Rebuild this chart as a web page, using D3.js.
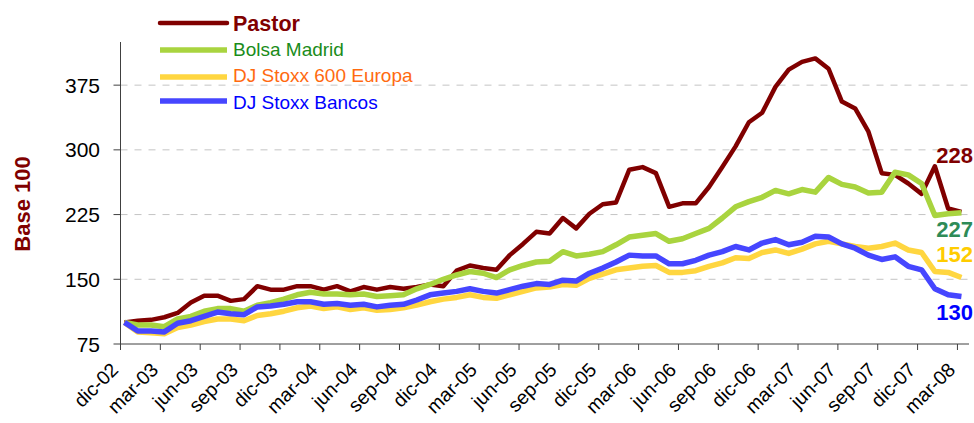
<!DOCTYPE html>
<html>
<head>
<meta charset="utf-8">
<script src="https://cdn.jsdelivr.net/npm/d3@7"></script>
<style>
  html, body { margin: 0; padding: 0; background: #fff; }
  svg { display: block; font-family: Arial, "Liberation Sans", sans-serif; }
</style>
</head>
<body>
<svg id="chart" width="974" height="423"></svg>
<script>
// ---- data ----
const tickLabels = ["dic-02","mar-03","jun-03","sep-03","dic-03","mar-04","jun-04","sep-04","dic-04","mar-05","jun-05","sep-05","dic-05","mar-06","jun-06","sep-06","dic-06","mar-07","jun-07","sep-07","dic-07","mar-08"];
const yTicks = [75, 150, 225, 300, 375];
const seriesNames = ["Pastor", "Bolsa Madrid", "DJ Stoxx 600 Europa", "DJ Stoxx Bancos"];
const pastor = [100,102,103,106,111,123,131,131,125,127,142,138,138,142,142,138,142,
  136,141,138,141,139,141,144,142,160,166,163,161,178,191,205,203,221,
  209,226,237,239,277,280,273,234,238,238,257,280,304,332,343,
  373,393,402,406,394,356,348,321,273,271,261,249,281,232,228];
const bolsaMadrid = [100,97,97,95,104,107,113,116,116,113,120,123,127,132,135,133,133,
  132,133,130,131,132,139,144,150,155,159,157,152,161,166,170,171,182,
  177,179,182,190,199,201,203,194,197,203,209,221,234,240,245,
  253,249,254,251,268,260,257,250,251,274,271,261,224,226,227];
const stoxx600 = [100,89,88,87,94,97,101,104,104,102,108,110,113,117,119,116,118,
  115,117,114,115,117,120,124,127,129,132,129,128,132,136,140,141,144,
  143,151,156,161,163,165,166,158,158,160,165,169,175,174,181,
  184,180,185,191,194,191,188,186,188,192,184,181,159,158,152];
const stoxxBancos = [100,90,90,89,99,102,107,112,110,109,118,119,121,124,124,121,122,
  120,121,118,120,121,126,132,134,136,139,136,134,138,142,145,144,149,
  148,157,163,170,178,177,177,168,168,172,178,182,188,184,192,
  196,190,193,200,199,191,186,178,173,176,165,161,139,132,130];
const allSeries = [pastor, bolsaMadrid, stoxx600, stoxxBancos];

// ---- styles ----
const lineColors = ["#800000", "#a9d43f", "#ffd640", "#4646ff"];
const lineWidths = [4.5, 5.5, 5.5, 5.5];
const legendTextColors = ["#800000", "#1a8c1a", "#ff6a10", "#0000ff"];
const endLabelColors = ["#800000", "#2e8b57", "#ffcc00", "#0000ff"];
const endLabelDy = [-49, 24, -15.5, 23.5];

const svg = d3.select("#chart");
const plot = { left: 120.5, right: 969, top: 42, bottom: 344 };
const monthsShown = 63.87;   // axis runs a little past mar-08
const dataOffset = 0.3;      // sample dates fall a bit after the month tick

const x = d3.scaleLinear().domain([0, monthsShown]).range([plot.left, plot.right]);
const y = d3.scaleLinear().domain([75, 425]).range([plot.bottom, plot.top]);

// gridlines
svg.append("g").selectAll("line").data(yTicks.filter(d => d > 75)).join("line")
  .attr("x1", plot.left).attr("x2", plot.right)
  .attr("y1", d => y(d)).attr("y2", d => y(d))
  .attr("stroke", "#c4c4c4").attr("stroke-width", 1).attr("stroke-dasharray", "7,7");

// y axis
const yAxis = svg.append("g");
yAxis.append("line").attr("x1", plot.left).attr("x2", plot.left)
  .attr("y1", plot.top).attr("y2", plot.bottom).attr("stroke", "#404040");
yAxis.selectAll("line.t").data(yTicks).join("line").attr("class", "t")
  .attr("x1", plot.left - 7).attr("x2", plot.left)
  .attr("y1", d => y(d)).attr("y2", d => y(d)).attr("stroke", "#404040");
yAxis.selectAll("text").data(yTicks).join("text")
  .attr("x", 100).attr("y", d => y(d)).attr("dy", "0.36em")
  .attr("text-anchor", "end").attr("font-size", 21).attr("fill", "#000")
  .text(d => d);

// x axis
const xAxis = svg.append("g");
xAxis.append("line").attr("x1", plot.left).attr("x2", plot.right)
  .attr("y1", plot.bottom).attr("y2", plot.bottom).attr("stroke", "#404040");
xAxis.selectAll("line.t").data(tickLabels).join("line").attr("class", "t")
  .attr("x1", (d, i) => x(i * 3)).attr("x2", (d, i) => x(i * 3))
  .attr("y1", plot.bottom).attr("y2", plot.bottom + 6).attr("stroke", "#404040");
xAxis.selectAll("text").data(tickLabels).join("text")
  .attr("transform", (d, i) => `translate(${x(i * 3) - 1},${plot.bottom + 27}) rotate(-45)`)
  .attr("text-anchor", "end").attr("font-size", 19.5).attr("fill", "#000")
  .text(d => d);

// y title
svg.append("text")
  .attr("transform", "translate(30,204) rotate(-90)")
  .attr("text-anchor", "middle").attr("font-size", 22).attr("font-weight", "bold")
  .attr("fill", "#800000").text("Base 100");

// lines
const line = d3.line().x((d, i) => x(i + dataOffset)).y(d => y(d)).curve(d3.curveLinear);
svg.append("g").selectAll("path").data(allSeries).join("path")
  .attr("d", d => line(d))
  .attr("fill", "none")
  .attr("stroke", (d, i) => lineColors[i])
  .attr("stroke-width", (d, i) => lineWidths[i])
  .attr("stroke-linejoin", "round");

// end labels
svg.append("g").selectAll("text").data(allSeries).join("text")
  .attr("x", 973)
  .attr("y", (d, i) => y(d[d.length - 1]) + endLabelDy[i])
  .attr("text-anchor", "end").attr("font-size", 22).attr("font-weight", "bold")
  .attr("fill", (d, i) => endLabelColors[i])
  .text(d => d[d.length - 1]);

// legend
const legendY = [23, 50, 77, 101];
const legendBase = [31, 56, 82, 109];
const lg = svg.append("g");
lg.selectAll("line").data(seriesNames).join("line")
  .attr("x1", 160).attr("x2", 227)
  .attr("y1", (d, i) => legendY[i]).attr("y2", (d, i) => legendY[i])
  .attr("stroke", (d, i) => lineColors[i])
  .attr("stroke-width", (d, i) => lineWidths[i])
  .attr("stroke-linecap", (d, i) => i === 0 ? "round" : "butt");
lg.selectAll("text").data(seriesNames).join("text")
  .attr("x", 233).attr("y", (d, i) => legendBase[i])
  .attr("font-size", (d, i) => i === 0 ? 21.5 : 19)
  .attr("font-weight", (d, i) => i === 0 ? "bold" : "normal")
  .attr("fill", (d, i) => legendTextColors[i])
  .text(d => d);
</script>
</body>
</html>
